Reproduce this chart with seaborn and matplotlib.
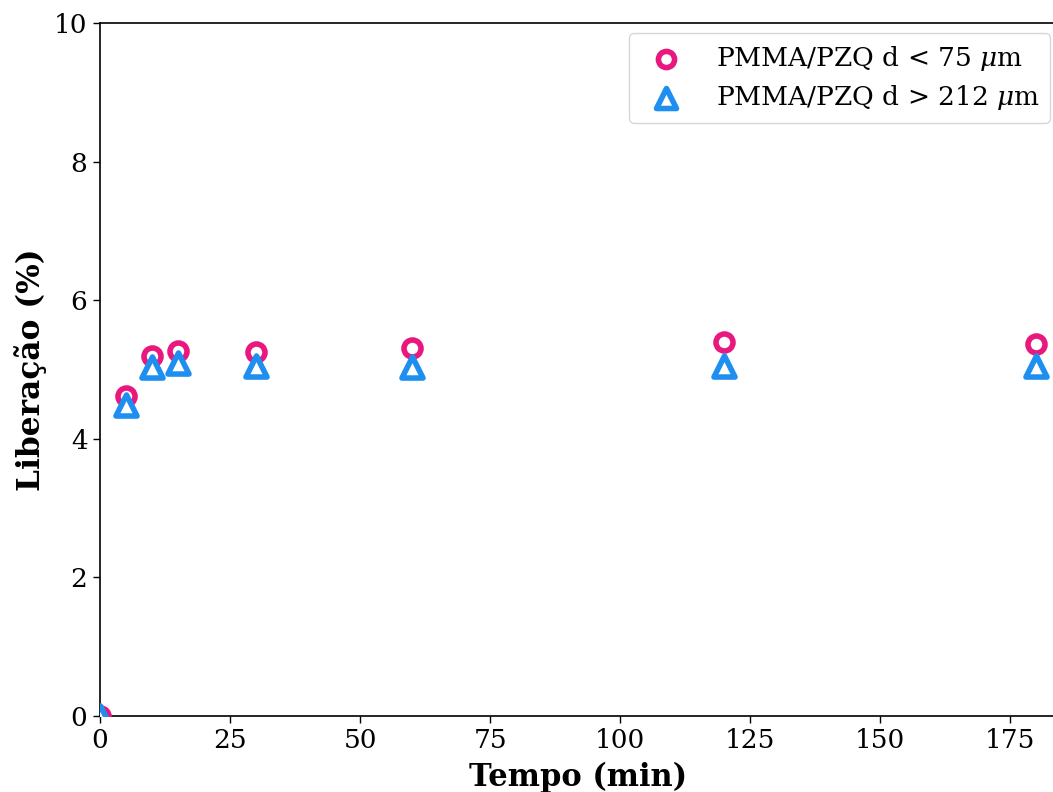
import matplotlib
matplotlib.use("Agg")
import matplotlib.pyplot as plt
import seaborn as sns
import pandas as pd

tempo = [0, 5, 10, 15, 30, 60, 120, 180]
lib_small = [0.0, 4.62, 5.19, 5.27, 5.25, 5.31, 5.40, 5.37]
lib_large = [0.0, 4.49, 5.04, 5.09, 5.05, 5.04, 5.05, 5.05]
labels = [r"PMMA/PZQ d < 75 $\mu$m", r"PMMA/PZQ d > 212 $\mu$m"]
colors = ["#e8187f", "#1e8ff0"]

sns.set_style("ticks")
plt.rcParams['font.family'] = ['DejaVu Serif']
plt.rcParams['mathtext.fontset'] = 'dejavuserif'
plt.rcParams['text.color'] = 'black'
plt.rcParams['axes.labelcolor'] = 'black'
plt.rcParams['xtick.color'] = 'black'
plt.rcParams['ytick.color'] = 'black'
plt.rcParams['axes.edgecolor'] = 'black'

fig = plt.figure(figsize=(10.53, 7.92), dpi=100)
ax = fig.add_axes([100/1053, 76/792, (1057-100)/1053, (716-23)/792])

df1 = pd.DataFrame({"t": tempo, "v": lib_small})
df2 = pd.DataFrame({"t": tempo, "v": lib_large})
sns.scatterplot(data=df1, x="t", y="v", marker="o", s=150, ax=ax,
                color=colors[0], label=labels[0], zorder=3)
sns.scatterplot(data=df2, x="t", y="v", marker="^", s=230, ax=ax,
                color=colors[1], label=labels[1], zorder=3)
for coll, c in zip(ax.collections, colors):
    coll.set_facecolor("white")
    coll.set_edgecolor(c)
    coll.set_linewidth(4.0)

ax.set_xlim(0, 184)
ax.set_ylim(0, 10)
ax.set_xticks([0, 25, 50, 75, 100, 125, 150, 175])
ax.set_yticks([0, 2, 4, 6, 8, 10])
ax.tick_params(labelsize=19, length=5, width=1, pad=4)
ax.set_xlabel("Tempo (min)", fontsize=22, fontweight="bold", labelpad=6)
ax.set_ylabel("Liberação (%)", fontsize=22.5, fontweight="bold", labelpad=5)
for s in ax.spines.values():
    s.set_linewidth(1.2)

leg = ax.legend(loc="upper right", fontsize=19, frameon=True, fancybox=True,
                borderpad=0.4, handletextpad=0.9, labelspacing=0.4,
                borderaxespad=0, bbox_to_anchor=(1 - 7/957, 1 - 10/693),
                markerscale=0.95)
for h in leg.legend_handles:
    h.set_facecolor("white")
    h.set_linewidth(4.0)

fig.savefig("out.png", dpi=100)
